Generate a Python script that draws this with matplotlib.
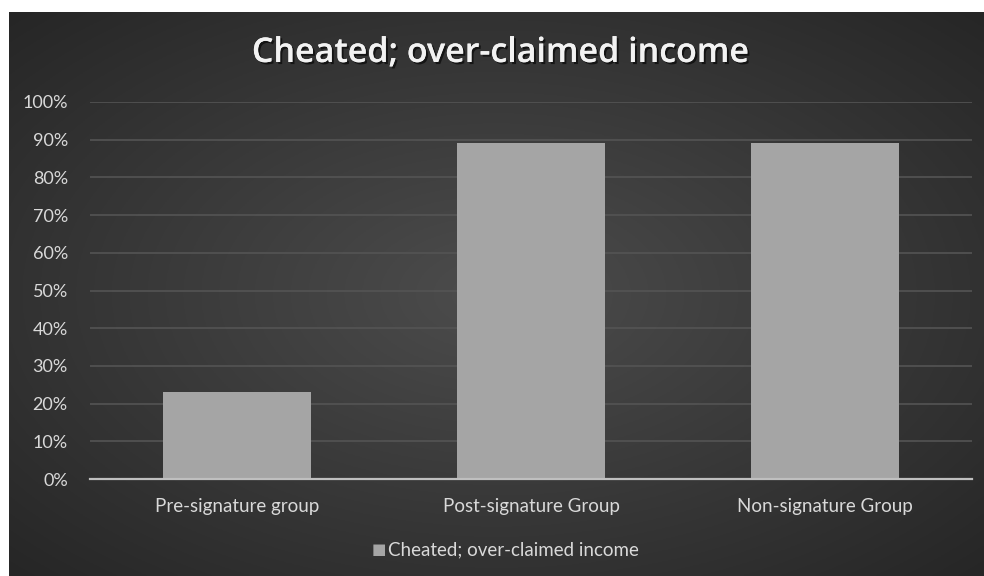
import numpy as np
import matplotlib
matplotlib.use("Agg")
import matplotlib.pyplot as plt
from matplotlib.ticker import PercentFormatter
import matplotlib.patheffects as pe

categories = ["Pre-signature group", "Post-signature Group", "Non-signature Group"]
values = [0.23, 0.89, 0.89]
series_name = "Cheated; over-claimed income"
title = "Cheated; over-claimed income"
yticks = [0, .1, .2, .3, .4, .5, .6, .7, .8, .9, 1.0]

W, H = 984, 576
fig = plt.figure(figsize=(W / 100, H / 100), dpi=100)
fig.patch.set_facecolor("white")

plt.rcParams['font.family'] = ['Lato', 'DejaVu Sans']

# background panel with radial gradient
bg = fig.add_axes([9 / W, 0, 1 - 9 / W, 1 - 12 / H])
bg.set_axis_off()
yy, xx = np.mgrid[0:1:300j, 0:1:500j]
r = np.sqrt(((xx - 0.5) / 0.75) ** 2 + ((yy - 0.5) / 0.75) ** 2)
shade = 0.30 - 0.16 * np.clip(r, 0, 1)
bg.imshow(np.dstack([shade] * 3), extent=[0, 1, 0, 1], aspect="auto", origin="lower")
bg.set_xlim(0, 1)
bg.set_ylim(0, 1)

# main axes
left, right = 90, 972
top, bottom = 102, 479
ax = fig.add_axes([left / W, 1 - bottom / H, (right - left) / W, (bottom - top) / H])
ax.patch.set_alpha(0)
x = np.arange(len(categories))
ax.bar(x, values, width=0.503, color="#a5a5a5", zorder=3)
ax.set_xlim(-0.5, len(categories) - 0.5)
ax.set_ylim(0, 1.0)
ax.set_yticks(yticks)
ax.yaxis.set_major_formatter(PercentFormatter(1.0, decimals=0))
ax.grid(axis="y", color="#545454", linewidth=1.2, zorder=0)
for s in ["top", "right", "left"]:
    ax.spines[s].set_visible(False)
ax.spines["bottom"].set_color("#bfbfbf")
ax.spines["bottom"].set_linewidth(1.6)
ax.spines["bottom"].set_zorder(4)
ax.tick_params(axis="both", length=0, colors="#d9d9d9", labelsize=13)
ax.tick_params(axis="y", pad=16)
ax.tick_params(axis="x", pad=14, labelsize=13.5)
ax.set_xticks(x)
ax.set_xticklabels(categories)

# title
fig.text(500 / W, 1 - 53 / H, title, ha="center", va="center", fontsize=24.5,
         fontweight="semibold", color="#f2f2f2", family=["Open Sans", "DejaVu Sans"],
         path_effects=[pe.withSimplePatchShadow(offset=(1.5, -1.5), shadow_rgbFace="black", alpha=0.6), pe.Normal()])

# legend
fig.text(372 / W, 1 - 550 / H, "■", ha="left", va="center", fontsize=11, color="#a5a5a5",
         family=["DejaVu Sans"])
fig.text(388 / W, 1 - 550 / H, series_name, ha="left", va="center", fontsize=13.5, color="#d9d9d9")

fig.savefig("out.png", dpi=100, facecolor=fig.get_facecolor())
